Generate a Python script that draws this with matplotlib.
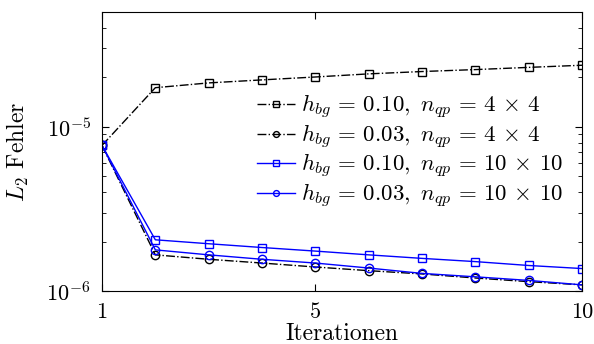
import matplotlib.pyplot as plt
import numpy as np

plt.rcParams['font.family'] = 'cmr10'
plt.rcParams['mathtext.fontset'] = 'cm'
plt.rcParams['axes.formatter.use_mathtext'] = True

iterations = [1, 2, 3, 4, 5, 6, 7, 8, 9, 10]
# hbg = 0.10, nqp = 4x4
err_010_4 = [7.7e-6, 1.73e-5, 1.85e-5, 1.93e-5, 2.01e-5, 2.10e-5, 2.17e-5, 2.23e-5, 2.30e-5, 2.37e-5]
# hbg = 0.03, nqp = 4x4
err_003_4 = [7.7e-6, 1.66e-6, 1.56e-6, 1.48e-6, 1.40e-6, 1.33e-6, 1.27e-6, 1.20e-6, 1.14e-6, 1.09e-6]
# hbg = 0.10, nqp = 10x10
err_010_10 = [7.7e-6, 2.05e-6, 1.94e-6, 1.84e-6, 1.75e-6, 1.66e-6, 1.58e-6, 1.51e-6, 1.43e-6, 1.37e-6]
# hbg = 0.03, nqp = 10x10
err_003_10 = [7.7e-6, 1.78e-6, 1.66e-6, 1.56e-6, 1.48e-6, 1.38e-6, 1.28e-6, 1.22e-6, 1.16e-6, 1.09e-6]

labels = [r'$h_{bg}\,=\,0.10,\ n_{qp}\,=\,4\,\times\,4$',
          r'$h_{bg}\,=\,0.03,\ n_{qp}\,=\,4\,\times\,4$',
          r'$h_{bg}\,=\,0.10,\ n_{qp}\,=\,10\,\times\,10$',
          r'$h_{bg}\,=\,0.03,\ n_{qp}\,=\,10\,\times\,10$']

fig = plt.figure(figsize=(5.94, 3.44), dpi=100)
ax = fig.add_axes([102/594, 1-291/344, 480/594, 279/344])

ax.semilogy(iterations, err_010_4, 'k-.s', mfc='none', ms=6, lw=1, label=labels[0])
ax.semilogy(iterations, err_003_4, 'k-.o', mfc='none', ms=6, lw=1, label=labels[1])
ax.semilogy(iterations, err_010_10, '-s', color='#0000ff', mfc='none', ms=6, lw=1, label=labels[2])
ax.semilogy(iterations, err_003_10, '-o', color='#0000ff', mfc='none', ms=6, lw=1, label=labels[3])

ax.set_xlim(1, 10)
ax.set_ylim(1e-6, 5e-5)
ax.set_xticks([1, 5, 10])
ax.set_xticklabels(['1', '5', '10'])
ax.tick_params(which='both', direction='in', top=True, right=True, labelsize=16)
ax.tick_params(axis='x', pad=8)
ax.tick_params(axis='y', pad=8)
ax.tick_params(which='major', length=5)
ax.tick_params(which='minor', length=3)
ax.set_xlabel('Iterationen', fontsize=17)
ax.xaxis.set_label_coords(0.5, -0.113)
ax.set_ylabel(r'$L_2$ Fehler', fontsize=17)
ax.yaxis.set_label_coords(-0.148, 0.5)

ax.legend(loc='upper left', bbox_to_anchor=(257/594, 1-93/344), bbox_transform=fig.transFigure,
          frameon=False, fontsize=16.5, handlelength=1.65, handletextpad=0.25,
          labelspacing=0.06, borderpad=0, borderaxespad=0, markerscale=0.7)

fig.savefig('out.png', dpi=100)
